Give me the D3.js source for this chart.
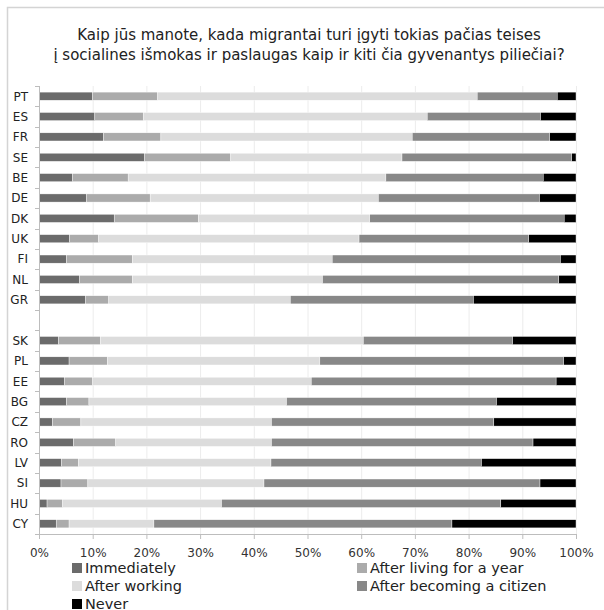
<!DOCTYPE html>
<html>
<head>
<meta charset="utf-8">
<script src="https://cdn.jsdelivr.net/npm/d3@7"></script>
<style>
  body { margin: 0; background: #fff; }
  svg { display: block; font-family: "DejaVu Sans", Verdana, sans-serif; }
</style>
</head>
<body>
<div id="chart"></div>
<script>
// countries, top to bottom ("" is the empty row between the two groups)
const countries = ["PT", "ES", "FR", "SE", "BE", "DE", "DK", "UK", "FI", "NL", "GR", "",
                   "SK", "PL", "EE", "BG", "CZ", "RO", "LV", "SI", "HU", "CY"];

const seriesNames = ["Immediately", "After living for a year", "After working",
                     "After becoming a citizen", "Never"];

// shares in % per country, same order as countries
const immediately = [10.0, 10.4, 12.0, 19.6, 6.2, 8.8, 14.0, 5.7, 5.1, 7.5, 8.7, 0,
                     3.6, 5.6, 4.7, 5.1, 2.5, 6.4, 4.2, 4.1, 1.5, 3.2];
const afterYear   = [12.1, 9.0, 10.7, 16.1, 10.4, 11.9, 15.7, 5.4, 12.3, 9.9, 4.3, 0,
                     7.8, 7.1, 5.3, 4.2, 5.3, 7.9, 3.1, 5.0, 2.9, 2.4];
const afterWork   = [59.5, 52.9, 46.8, 31.9, 48.0, 42.5, 31.9, 48.5, 37.2, 35.4, 33.8, 0,
                     49.0, 39.6, 40.7, 36.8, 35.5, 29.0, 35.9, 32.8, 29.6, 15.8];
const citizen     = [14.9, 21.1, 25.6, 31.6, 29.3, 30.0, 36.2, 31.6, 42.5, 44.0, 34.1, 0,
                     27.8, 45.4, 45.6, 39.1, 41.4, 48.7, 39.2, 51.4, 52.0, 55.5];
const never       = [3.5, 6.6, 4.9, 0.8, 6.1, 6.8, 2.2, 8.8, 2.9, 3.2, 19.1, 0,
                     11.8, 2.3, 3.7, 14.8, 15.3, 8.0, 17.6, 6.7, 14.0, 23.1];

const xTicks = [0, 10, 20, 30, 40, 50, 60, 70, 80, 90, 100];

const colors = ["#6b6b6b", "#ababab", "#dcdcdc", "#888888", "#000000"];

const width = 604, height = 610;
const margin = { top: 86, left: 39, right: 28, bottom: 76 };
const iwidth = width - margin.left - margin.right;
const iheight = height - margin.top - margin.bottom;

const rows = countries.map((c, i) => ({
    id: i, code: c,
    v: [immediately[i], afterYear[i], afterWork[i], citizen[i], never[i]]
}));

const stack = d3.stack()
    .keys([0, 1, 2, 3, 4])
    .value((d, k) => d.v[k]);
const layers = stack(rows);

const svg = d3.select("#chart").append("svg")
    .attr("width", width)
    .attr("height", height);

// outer frame
svg.append("rect")
    .attr("x", 7.5).attr("y", 7.5)
    .attr("width", 640).attr("height", 640)
    .attr("fill", "none")
    .attr("stroke", "#d4d4d4")
    .attr("stroke-width", 1.5);

// title
const title = svg.append("text")
    .attr("text-anchor", "middle")
    .attr("font-size", 15)
    .attr("fill", "#222");
title.append("tspan").attr("x", 309).attr("y", 40)
    .text("Kaip jūs manote, kada migrantai turi įgyti tokias pačias teises");
title.append("tspan").attr("x", 309).attr("y", 60)
    .text("į socialines išmokas ir paslaugas kaip ir kiti čia gyvenantys piliečiai?");

const g = svg.append("g").attr("transform", `translate(${margin.left},${margin.top})`);

const x = d3.scaleLinear().domain([0, 100]).range([0, iwidth]);
const y = d3.scaleBand()
    .domain(rows.map(d => d.id))
    .range([0, iheight])
    .paddingInner(0.6)
    .paddingOuter(0.3);

// grid lines
g.append("g")
    .selectAll("line")
    .data(xTicks.slice(1))
    .enter().append("line")
    .attr("x1", d => x(d) + 0.5).attr("x2", d => x(d) + 0.5)
    .attr("y1", 0).attr("y2", iheight)
    .attr("stroke", "#ececec");

// bars
g.selectAll("g.layer")
    .data(layers)
    .enter().append("g")
    .attr("class", "layer")
    .attr("fill", (d, i) => colors[i])
    .selectAll("rect")
    .data(d => d.filter(s => s.data.code !== ""))
    .enter().append("rect")
    .attr("x", d => x(d[0]))
    .attr("y", d => y(d.data.id))
    .attr("width", d => x(d[1]) - x(d[0]))
    .attr("height", y.bandwidth())
    .attr("stroke", "#fff")
    .attr("stroke-width", 0.4);

// x axis
const xAxis = g.append("g")
    .attr("transform", `translate(0,${iheight})`)
    .call(d3.axisBottom(x).tickValues(xTicks).tickFormat(d => d + "%").tickSize(5).tickPadding(9));
xAxis.selectAll("path, line").attr("stroke", "#bdbdbd");
xAxis.selectAll("text").attr("font-size", 12).attr("fill", "#333")
    .attr("font-family", "DejaVu Sans, sans-serif");

// y axis: line + ticks at band edges, labels centred on bands
const yAxis = g.append("g");
yAxis.append("line")
    .attr("x1", 0.5).attr("x2", 0.5).attr("y1", 0).attr("y2", iheight)
    .attr("stroke", "#bdbdbd");
const step = y.step();
yAxis.selectAll("line.tick")
    .data(d3.range(countries.length + 1))
    .enter().append("line")
    .attr("class", "tick")
    .attr("x1", -4).attr("x2", 0)
    .attr("y1", i => Math.round(i * step) + 0.5)
    .attr("y2", i => Math.round(i * step) + 0.5)
    .attr("stroke", "#bdbdbd");
yAxis.selectAll("text")
    .data(rows.filter(d => d.code !== ""))
    .enter().append("text")
    .attr("x", -11)
    .attr("y", d => y(d.id) + y.bandwidth() / 2)
    .attr("dy", "0.36em")
    .attr("text-anchor", "end")
    .attr("font-size", 12)
    .attr("fill", "#222")
    .text(d => d.code);

// legend: two columns
const legend = svg.append("g").attr("font-size", 14.5).attr("fill", "#222");
const legendPos = [[72, 568], [357, 568], [72, 586], [357, 586], [72, 604]];
const items = legend.selectAll("g")
    .data(seriesNames)
    .enter().append("g")
    .attr("transform", (d, i) => `translate(${legendPos[i][0]},${legendPos[i][1]})`);
items.append("rect")
    .attr("x", 0).attr("y", -5)
    .attr("width", 10).attr("height", 10)
    .attr("fill", (d, i) => colors[i]);
items.append("text")
    .attr("x", 13)
    .attr("dy", "0.36em")
    .text(d => d);
</script>
</body>
</html>
